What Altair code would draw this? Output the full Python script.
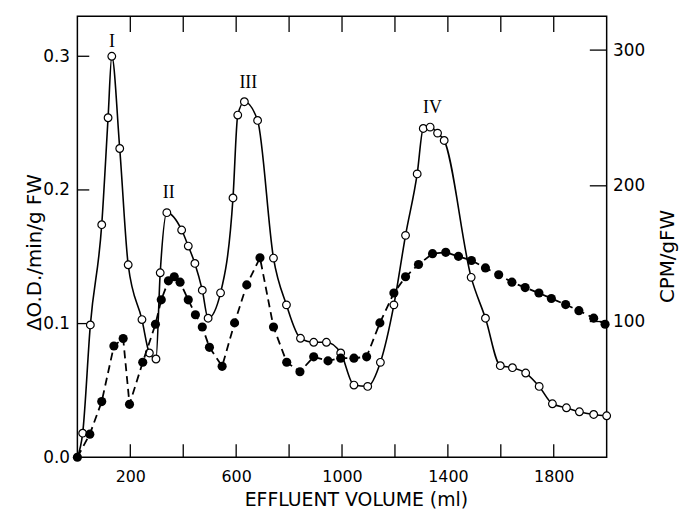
import altair as alt
import pandas as pd

# Open circles: ΔO.D./min/g FW (left axis)
open_ml = [0, 20, 49, 92, 116, 130, 160, 192, 244, 272, 297, 313, 338, 394, 419, 444, 472, 494, 541,
           588, 606, 631, 681, 741, 790, 843, 893, 941, 995, 1045, 1097, 1145, 1196, 1240, 1284,
           1307, 1333, 1361, 1386, 1488, 1542, 1598, 1644, 1694, 1745, 1795, 1848, 1897, 1951, 2000]
open_od = [0.0, 0.018, 0.099, 0.174, 0.254, 0.300, 0.231, 0.144, 0.103, 0.078, 0.0735, 0.138, 0.183,
           0.170, 0.158, 0.145, 0.125, 0.104, 0.123, 0.194, 0.256, 0.266, 0.252, 0.149, 0.114,
           0.089, 0.086, 0.086, 0.078, 0.054, 0.053, 0.071, 0.114, 0.166, 0.212, 0.246, 0.247,
           0.2425, 0.237, 0.1346, 0.104, 0.0685, 0.067, 0.063, 0.053, 0.040, 0.037, 0.034, 0.032, 0.031]

# Filled circles: CPM/gFW (right axis)
fill_ml = [0, 47, 92, 138, 173, 197, 247, 295, 317, 344, 366, 388, 419, 446, 472, 499, 547, 594, 640,
           690, 741, 791, 841, 893, 947, 995, 1045, 1093, 1143, 1196, 1240, 1289, 1342, 1392, 1440,
           1489, 1542, 1592, 1642, 1692, 1744, 1791, 1845, 1895, 1951, 1994]
fill_cpm = [0, 17, 41, 82, 87.5, 39, 70, 98, 116, 130, 133, 129, 116, 105, 96, 81, 67, 99, 127,
            147, 96, 70, 63, 74, 71, 73, 73, 74, 99, 121, 133, 142, 150, 151, 148,
            145, 139.5, 134.5, 129, 125, 121, 117, 112.5, 108, 102.5, 98]

peak_labels = ["I", "II", "III", "IV"]
peak_ml = [131, 345, 646, 1342]
peak_od = [0.311, 0.198, 0.280, 0.261]

x_ticks = [200, 400, 600, 800, 1000, 1200, 1400, 1600, 1800]
x_labels = [200, 600, 1000, 1400, 1800]
left_ticks = [0.1, 0.2, 0.3]
left_labels = [0.0, 0.1, 0.2, 0.3]
right_ticks = [100, 200, 300]

df_open = pd.DataFrame({"ml": open_ml, "od": open_od})
df_fill = pd.DataFrame({"ml": fill_ml, "cpm": fill_cpm})
df_peak = pd.DataFrame({"ml": peak_ml, "od": peak_od, "lab": peak_labels})
df_xt = pd.DataFrame({"ml": x_ticks})
df_lt = pd.DataFrame({"od": left_ticks})
df_rt = pd.DataFrame({"cpm": right_ticks})

FONT = "DejaVu Sans"
W, H = 534, 445

xscale = alt.Scale(domain=[0, 2000], nice=False, zero=False)
yleft = alt.Scale(domain=[0, 0.33], nice=False)
yright = alt.Scale(domain=[0, 325], nice=False)

x_axis = alt.Axis(
    orient="bottom", values=x_labels, format="d", domain=False, grid=False, ticks=False,
    labelPadding=11, labelFont=FONT, labelFontSize=16, labelColor="black",
    title="EFFLUENT VOLUME (ml)", titleFont=FONT, titleFontSize=19,
    titleFontWeight="normal", titleColor="black",
    titleX=281, titleY=43, titleAlign="center", titleBaseline="middle")

y_left = alt.Y("od:Q", scale=yleft, axis=alt.Axis(
    orient="left", values=left_labels, format=".1f", domain=False, grid=False, ticks=False,
    labelPadding=8, labelFont=FONT, labelFontSize=17, labelColor="black",
    title="ΔO.D./min/g FW", titleFont=FONT, titleFontSize=20, titleFontWeight="normal",
    titleColor="black", titleAngle=270, titleX=-43, titleY=238,
    titleAlign="center", titleBaseline="middle"))

y_right = alt.Y("cpm:Q", scale=yright, axis=alt.Axis(
    orient="right", values=right_ticks, domain=False, grid=False, ticks=False,
    labelPadding=6, labelFont=FONT, labelFontSize=17, labelColor="black",
    title="CPM/gFW", titleFont=FONT, titleFontSize=20, titleFontWeight="normal",
    titleColor="black", titleAngle=270, titleX=61, titleY=242,
    titleAlign="center", titleBaseline="middle"))

def xenc():
    return alt.X("ml:Q", scale=xscale, axis=x_axis)

open_line = alt.Chart(df_open).mark_line(
    color="black", strokeWidth=1.6, interpolate="monotone").encode(x=xenc(), y=y_left)
open_pts = alt.Chart(df_open).transform_filter("datum.ml > 0").mark_point(
    shape="circle", filled=True, fill="white", stroke="black", strokeWidth=1.2,
    size=60, opacity=1).encode(x=xenc(), y="od:Q")
peaks = alt.Chart(df_peak).mark_text(
    font="Liberation Serif", fontSize=18, color="black", baseline="middle").encode(
    x=xenc(), y="od:Q", text="lab:N")
bottom_ticks = alt.Chart(df_xt).mark_rule(color="black", strokeWidth=1.3).encode(
    x=xenc(), y=alt.value(H - 13), y2=alt.value(H))
top_ticks = alt.Chart(df_xt).mark_rule(color="black", strokeWidth=1.3).encode(
    x=xenc(), y=alt.value(0), y2=alt.value(16))
lticks = alt.Chart(df_lt).mark_rule(color="black", strokeWidth=1.3).encode(
    y="od:Q", x=alt.value(0), x2=alt.value(12))

left = alt.layer(open_line, bottom_ticks, top_ticks, lticks, open_pts, peaks)

fill_line = alt.Chart(df_fill).mark_line(
    color="black", strokeWidth=1.8, strokeDash=[8, 5]).encode(x=xenc(), y=y_right)
fill_pts = alt.Chart(df_fill).mark_point(
    shape="circle", filled=True, color="black", size=85, opacity=1).encode(x=xenc(), y="cpm:Q")
rticks = alt.Chart(df_rt).mark_rule(color="black", strokeWidth=1.3).encode(
    y="cpm:Q", x=alt.value(W - 17), x2=alt.value(W))

right = alt.layer(fill_line, rticks, fill_pts)

chart = alt.layer(left, right).resolve_scale(y="independent").resolve_axis(
    y="independent").properties(
    width=W, height=H,
    autosize=alt.AutoSizeParams(type="none"),
    padding={"left": 70, "top": 6, "right": 75, "bottom": 53},
    background="white"
).configure_view(stroke="black", strokeWidth=1.5)

chart.save("out.html", embed_options={"renderer": "svg", "actions": False})
